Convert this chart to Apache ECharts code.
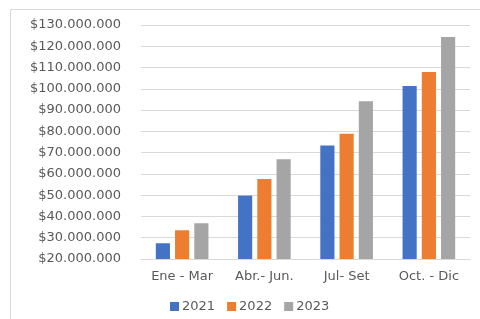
<!DOCTYPE html>
<html>
<head>
<meta charset="utf-8">
<style>
  html, body { margin: 0; padding: 0; background: #fff; }
  #chart { width: 480px; height: 319px; }
</style>
<script src="https://cdn.jsdelivr.net/npm/echarts@6/dist/echarts.min.js"></script>
</head>
<body>
<div id="chart"></div>
<script>
// trimestres y años
var quarters = ['Ene - Mar', 'Abr.- Jun.', 'Jul- Set', 'Oct. - Dic'];
var years = ['2021', '2022', '2023'];
var sales2021 = [27400000, 49800000, 73400000, 101300000];
var sales2022 = [33500000, 57600000, 78900000, 107900000];
var sales2023 = [36800000, 66900000, 94200000, 124400000];
var colors = ['#4472C4', '#ED7D31', '#A5A5A5'];
var yMin = 20000000, yMax = 130000000, yStep = 10000000;

function money(v) {
    return '$' + String(v).replace(/\B(?=(\d{3})+(?!\d))/g, '.');
}

var font = 'DejaVu Sans';
var chart = echarts.init(document.getElementById('chart'));
var allData = [sales2021, sales2022, sales2023];
var series = [];
for (var i = 0; i < years.length; i++) {
    series.push({
        name: years[i],
        type: 'bar',
        data: allData[i],
        barGap: '36%',
        barCategoryGap: '36%',
        itemStyle: { color: colors[i] }
    });
}

chart.setOption({
    animation: false,
    color: colors,
    graphic: [{
        type: 'rect',
        shape: { x: 10.5, y: 9.5, width: 480, height: 320 },
        style: { fill: 'none', stroke: '#d9d9d9', lineWidth: 1 },
        silent: true
    }],
    grid: { left: 141, right: 10, top: 25, bottom: 60 },
    legend: {
        data: years,
        left: 165,
        top: 295,
        icon: 'rect',
        itemWidth: 9,
        itemHeight: 9,
        itemGap: 12,
        textStyle: { color: '#595959', fontFamily: font, fontSize: 13, padding: [0, 0, 0, -2] }
    },
    xAxis: {
        type: 'category',
        data: quarters,
        axisLine: { lineStyle: { color: '#d9d9d9' } },
        axisTick: { show: false },
        axisLabel: { color: '#595959', fontFamily: font, fontSize: 13, margin: 11 }
    },
    yAxis: {
        type: 'value',
        min: yMin,
        max: yMax,
        interval: yStep,
        axisLine: { show: false },
        axisTick: { show: false },
        splitLine: { lineStyle: { color: '#d9d9d9' } },
        axisLabel: { color: '#595959', fontFamily: font, fontSize: 13, margin: 20, formatter: money }
    },
    series: series
});
</script>
</body>
</html>
